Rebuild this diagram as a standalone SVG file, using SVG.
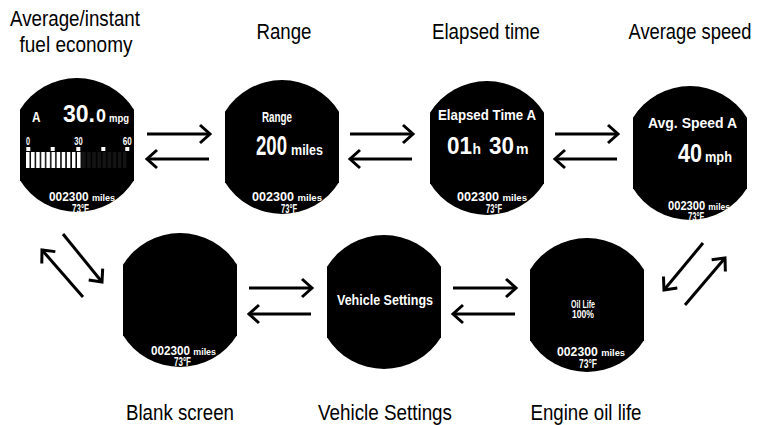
<svg xmlns="http://www.w3.org/2000/svg" width="760" height="425" viewBox="0 0 760 425">
<style>
.bg{fill:#fff}
.scr{fill:#000}
.t{font-family:"Liberation Sans Narrow","Liberation Sans",Arial,sans-serif;fill:#fff;font-weight:bold}
.lbl{font-family:"Liberation Sans Narrow","Liberation Sans",Arial,sans-serif;fill:#000;font-size:22px;text-anchor:middle}
.c{text-anchor:middle}
.sm{font-size:0.76em}
.ln{stroke:#000;stroke-width:3;fill:none;marker-end:url(#ah)}
</style>
<defs>
<path id="screen" d="M-57,-35.2 A67,67 0 0 1 57,-35.2 L57,35.2 A67,67 0 0 1 -57,35.2 Z"/>
<marker id="ah" markerUnits="userSpaceOnUse" viewBox="-14 -12 16 24" refX="0" refY="0" markerWidth="16" markerHeight="24" orient="auto" overflow="visible">
<path d="M-10,-9 L0,0 L-10,9" fill="none" stroke="#000" stroke-width="3"/>
</marker>
<pattern id="barW" patternUnits="userSpaceOnUse" x="26" y="152" width="5.1" height="16"><rect width="3.6" height="16" fill="#fff"/></pattern>
<pattern id="barG" patternUnits="userSpaceOnUse" x="26" y="152" width="5.1" height="16"><rect width="3.6" height="16" fill="#141414"/></pattern>
</defs>
<rect class="bg" width="760" height="425"/>

<g id="labels">
<text class="lbl" x="75" y="26" textLength="130" lengthAdjust="spacingAndGlyphs">Average/instant</text>
<text class="lbl" x="76" y="52" textLength="113" lengthAdjust="spacingAndGlyphs">fuel economy</text>
<text class="lbl" x="284" y="39" textLength="55" lengthAdjust="spacingAndGlyphs">Range</text>
<text class="lbl" x="486" y="39" textLength="108" lengthAdjust="spacingAndGlyphs">Elapsed time</text>
<text class="lbl" x="690" y="39" textLength="123" lengthAdjust="spacingAndGlyphs">Average speed</text>
<text class="lbl" x="180" y="420" textLength="108" lengthAdjust="spacingAndGlyphs">Blank screen</text>
<text class="lbl" x="385" y="420" textLength="134" lengthAdjust="spacingAndGlyphs">Vehicle Settings</text>
<text class="lbl" x="586" y="420" textLength="111" lengthAdjust="spacingAndGlyphs">Engine oil life</text>
</g>

<g id="fuel-economy">
<use href="#screen" class="scr" transform="translate(77,145)"/>
<text class="t" x="32" y="122" font-size="14" textLength="8.5" lengthAdjust="spacingAndGlyphs">A</text>
<text class="t" x="63" y="122" font-size="23" textLength="32" lengthAdjust="spacingAndGlyphs">30.</text>
<text class="t" x="96" y="122" font-size="18" textLength="10" lengthAdjust="spacingAndGlyphs">0</text>
<text class="t" x="109" y="122" font-size="10.5" textLength="20" lengthAdjust="spacingAndGlyphs">mpg</text>
<text class="t" x="26" y="145" font-size="10.5" textLength="4" lengthAdjust="spacingAndGlyphs">0</text>
<text class="t" x="74.3" y="145" font-size="10.5" textLength="8.4" lengthAdjust="spacingAndGlyphs">30</text>
<text class="t" x="122.7" y="145" font-size="10.5" textLength="9" lengthAdjust="spacingAndGlyphs">60</text>
<g fill="#fff">
<rect x="26.3" y="147" width="4" height="4"/>
<rect x="50.7" y="147" width="4" height="4"/>
<rect x="76.3" y="147" width="4" height="4"/>
<rect x="101.3" y="147" width="4" height="4"/>
<rect x="125.3" y="147" width="4" height="4"/>
</g>
<rect x="26" y="152" width="56" height="16" fill="url(#barW)"/>
<rect x="82.1" y="152" width="45" height="16" fill="url(#barG)"/>
<text class="t" x="49" y="201" font-size="13" textLength="66" lengthAdjust="spacingAndGlyphs">002300 <tspan class="sm">miles</tspan></text>
<text class="t" x="72" y="213" font-size="12.5" textLength="17" lengthAdjust="spacingAndGlyphs">73°F</text>
</g>

<g id="range">
<use href="#screen" class="scr" transform="translate(282,147)"/>
<text class="t" x="262" y="122" font-size="14" textLength="30" lengthAdjust="spacingAndGlyphs">Range</text>
<text class="t" x="256" y="155" font-size="27.5" textLength="31" lengthAdjust="spacingAndGlyphs">200</text>
<text class="t" x="291" y="155" font-size="15.5" textLength="32" lengthAdjust="spacingAndGlyphs">miles</text>
<text class="t" x="252" y="201" font-size="13" textLength="70" lengthAdjust="spacingAndGlyphs">002300 <tspan class="sm">miles</tspan></text>
<text class="t" x="281" y="213" font-size="12.5" textLength="16" lengthAdjust="spacingAndGlyphs">73°F</text>
</g>

<g id="elapsed-time">
<use href="#screen" class="scr" transform="translate(487,148)"/>
<text class="t" x="438" y="120" font-size="14" textLength="98" lengthAdjust="spacingAndGlyphs">Elapsed Time A</text>
<text class="t" x="447" y="154" font-size="24.5" textLength="25" lengthAdjust="spacingAndGlyphs">01</text>
<text class="t" x="472.5" y="154" font-size="14.5" textLength="8.5" lengthAdjust="spacingAndGlyphs">h</text>
<text class="t" x="489" y="154" font-size="24.5" textLength="25" lengthAdjust="spacingAndGlyphs">30</text>
<text class="t" x="516" y="154" font-size="15.5" textLength="12.5" lengthAdjust="spacingAndGlyphs">m</text>
<text class="t" x="457" y="201" font-size="13" textLength="70" lengthAdjust="spacingAndGlyphs">002300 <tspan class="sm">miles</tspan></text>
<text class="t" x="486" y="213" font-size="12.5" textLength="16" lengthAdjust="spacingAndGlyphs">73°F</text>
</g>

<g id="average-speed">
<use href="#screen" class="scr" transform="translate(690,153)"/>
<text class="t" x="648" y="128" font-size="14" textLength="89" lengthAdjust="spacingAndGlyphs">Avg. Speed A</text>
<text class="t" x="678" y="162" font-size="26" textLength="24" lengthAdjust="spacingAndGlyphs">40</text>
<text class="t" x="705" y="162" font-size="14.5" textLength="27" lengthAdjust="spacingAndGlyphs">mph</text>
<text class="t" x="668" y="210" font-size="13" textLength="62" lengthAdjust="spacingAndGlyphs">002300 <tspan class="sm">miles</tspan></text>
<text class="t" x="688" y="221" font-size="12.5" textLength="16" lengthAdjust="spacingAndGlyphs">73°F</text>
</g>

<g id="blank-screen">
<use href="#screen" class="scr" transform="translate(180,300)"/>
<text class="t" x="151" y="354.5" font-size="13" textLength="65" lengthAdjust="spacingAndGlyphs">002300 <tspan class="sm">miles</tspan></text>
<text class="t" x="174" y="365.5" font-size="12.5" textLength="17" lengthAdjust="spacingAndGlyphs">73°F</text>
</g>

<g id="vehicle-settings">
<use href="#screen" class="scr" transform="translate(384,302)"/>
<text class="t" x="337" y="304.5" font-size="14" textLength="96" lengthAdjust="spacingAndGlyphs">Vehicle Settings</text>
</g>

<g id="engine-oil-life">
<use href="#screen" class="scr" transform="translate(587,305)"/>
<text class="t c" x="583" y="307.5" font-size="10" textLength="24" lengthAdjust="spacingAndGlyphs">Oil Life</text>
<text class="t c" x="583" y="318.3" font-size="10" textLength="22" lengthAdjust="spacingAndGlyphs">100%</text>
<text class="t" x="557" y="356" font-size="13" textLength="68" lengthAdjust="spacingAndGlyphs">002300 <tspan class="sm">miles</tspan></text>
<text class="t" x="579" y="367.5" font-size="12.5" textLength="18" lengthAdjust="spacingAndGlyphs">73°F</text>
</g>

<g id="connectors">
<line class="ln" x1="147" y1="134" x2="210" y2="134"/>
<line class="ln" x1="209" y1="159" x2="147" y2="159"/>
<line class="ln" x1="350" y1="134" x2="413" y2="134"/>
<line class="ln" x1="412" y1="159" x2="350" y2="159"/>
<line class="ln" x1="555" y1="134" x2="618" y2="134"/>
<line class="ln" x1="617" y1="159" x2="555" y2="159"/>
<line class="ln" x1="249" y1="288" x2="312" y2="288"/>
<line class="ln" x1="311" y1="314" x2="249" y2="314"/>
<line class="ln" x1="453" y1="288" x2="516" y2="288"/>
<line class="ln" x1="515" y1="314" x2="453" y2="314"/>
<line class="ln" x1="63" y1="234" x2="102" y2="282"/>
<line class="ln" x1="83" y1="297" x2="42" y2="250"/>
<line class="ln" x1="703" y1="243" x2="664" y2="290"/>
<line class="ln" x1="685" y1="305" x2="725" y2="258"/>
</g>
</svg>
